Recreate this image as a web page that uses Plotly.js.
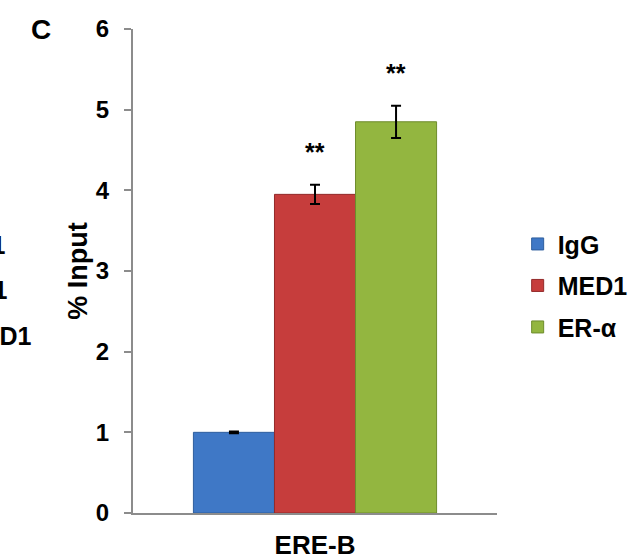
<!DOCTYPE html>
<html>
<head>
<meta charset="utf-8">
<script src="https://cdn.plot.ly/plotly-3.0.1.min.js"></script>
<style>html,body{margin:0;padding:0;background:#fff;}#chart{width:634px;height:560px;}</style>
</head>
<body>
<div id="chart"></div>
<script>
const categories = ["ERE-B"];
const seriesNames = ["IgG", "MED1", "ER-α"];
const seriesValues = [[1.0], [3.95], [4.85]];
const seriesErrors = [[0.01], [0.12], [0.2]];
const significance = ["", "**", "**"];
const yTicks = [0, 1, 2, 3, 4, 5, 6];

const colors = ["#3F78C6", "#C63D3C", "#93B640"];
const lineColors = ["#2E5E9E", "#932A2A", "#6E8C2C"];
const FONT = "Arial, 'Liberation Sans', sans-serif";

const traces = seriesNames.map((name, i) => ({
  type: "bar",
  name: "<b>" + name + "</b>",
  x: categories,
  y: seriesValues[i],
  legendgroup: "g" + i,
  marker: {color: colors[i], line: {color: lineColors[i], width: 1}},
  error_y: {type: "data", array: seriesErrors[i], visible: true, color: "#000", thickness: 2, width: 5},
  hoverinfo: "none"
}));

const barPx = 81;
const annotations = [];
seriesNames.forEach((name, i) => {
  if (significance[i]) {
    annotations.push({
      x: categories[0], y: seriesValues[i][0] + seriesErrors[i][0],
      xref: "x", yref: "y", text: "<b>" + significance[i] + "</b>",
      showarrow: false, xshift: (i - 1) * barPx, yshift: 33, yanchor: "middle",
      font: {family: FONT, size: 25, color: "#000"}
    });
  }
});
annotations.push({xref: "paper", yref: "paper", x: -0.254, y: 1.0, xanchor: "center", yanchor: "middle",
  text: "<b>C</b>", showarrow: false, font: {family: FONT, size: 28, color: "#000"}});
// cropped fragments of the neighbouring panel
[[245, 8], [290, 10], [336, 34]].forEach(p => {
  annotations.push({xref: "paper", yref: "paper",
    x: (p[1] - 133) / 364, y: (513 - p[0]) / 484, xanchor: "right", yanchor: "middle",
    text: "<b>MED1</b>", showarrow: false, font: {family: FONT, size: 25, color: "#000"}});
});

const layout = {
  width: 634, height: 560,
  margin: {l: 133, r: 137, t: 29, b: 47},
  paper_bgcolor: "#fff", plot_bgcolor: "#fff",
  barmode: "group", bargap: 0.332, bargroupgap: 0,
  showlegend: true,
  legend: {xref: "container", yref: "container", x: 0.8165, xanchor: "left", y: 0.605, yanchor: "top",
    traceorder: "grouped", tracegroupgap: 6,
    font: {family: FONT, size: 25, color: "#000"}, bgcolor: "rgba(0,0,0,0)"},
  xaxis: {
    range: [-0.5, 0.5], automargin: false,
    showline: true, linecolor: "#8C8C8C", linewidth: 2, ticks: "", showgrid: false, zeroline: false,
    tickfont: {family: FONT, size: 26, color: "#000"}, ticklabelstandoff: 8,
    tickvals: categories, ticktext: categories.map(c => "<b>" + c + "</b>")
  },
  yaxis: {
    range: [0, 6], automargin: false, tickvals: yTicks, ticktext: yTicks.map(t => "<b>" + t + "</b>"),
    showline: true, linecolor: "#8C8C8C", linewidth: 2, ticks: "outside", ticklen: 7, tickwidth: 2, tickcolor: "#8C8C8C",
    showgrid: false, zeroline: false, ticklabelstandoff: 10,
    tickfont: {family: FONT, size: 24, color: "#000"},
    title: {text: "<b>% Input</b>", font: {family: FONT, size: 27, color: "#000"}, standoff: 0}
  },
  annotations: annotations
};

Plotly.newPlot("chart", traces, layout, {displayModeBar: false, staticPlot: true});
</script>
</body>
</html>
